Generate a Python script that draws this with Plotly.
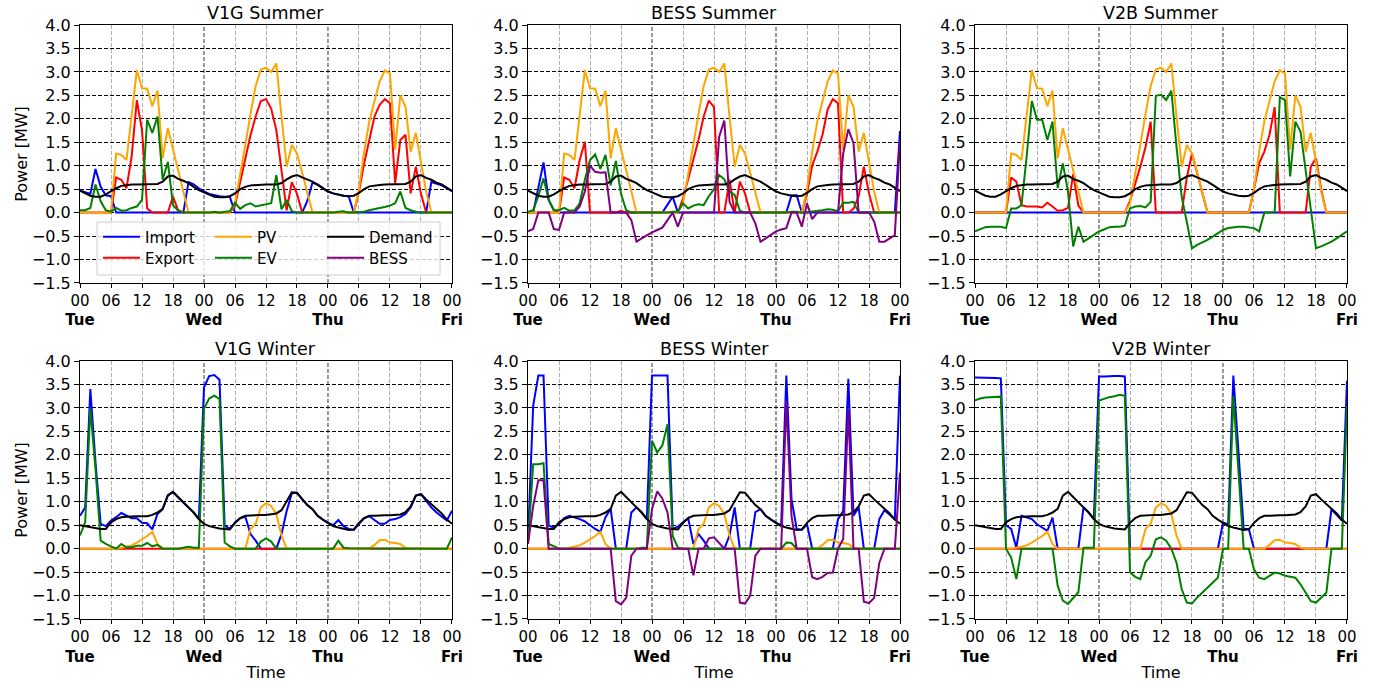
import plotly.graph_objects as go

HOURS = list(range(73))
DAY_NAMES = ["Tue", "Wed", "Thu", "Fri"]
HOUR_TICKS = list(range(0, 73, 6))
Y_TICKS = [-1.5, -1.0, -0.5, 0.0, 0.5, 1.0, 1.5, 2.0, 2.5, 3.0, 3.5, 4.0]

SERIES_ORDER = ["Import", "Export", "PV", "EV", "Demand", "BESS"]
SERIES_COLORS = {"Import": "#0000ff", "Export": "#ff0000", "PV": "#ffa500",
                 "EV": "#008000", "Demand": "#000000", "BESS": "#800080"}
LEGEND_OF = {"Import": "legend", "PV": "legend", "Demand": "legend",
             "Export": "legend2", "EV": "legend2", "BESS": "legend2"}

ZERO = [0.0] * 73

# ---------------- Summer (shared) ----------------
SUMMER_DEMAND = [
    0.47, 0.41, 0.36, 0.34, 0.34, 0.39, 0.46, 0.52, 0.57, 0.59, 0.60, 0.60,
    0.60, 0.60, 0.60, 0.61, 0.66, 0.77, 0.79, 0.72, 0.68, 0.63, 0.55, 0.48,
    0.43, 0.38, 0.34, 0.33, 0.33, 0.35, 0.41, 0.50, 0.55, 0.58, 0.59, 0.60,
    0.60, 0.60, 0.60, 0.63, 0.71, 0.77, 0.80, 0.75, 0.71, 0.66, 0.59, 0.52,
    0.45, 0.41, 0.38, 0.36, 0.35, 0.36, 0.42, 0.50, 0.56, 0.58, 0.59, 0.60,
    0.60, 0.60, 0.60, 0.61, 0.66, 0.77, 0.80, 0.74, 0.70, 0.64, 0.60, 0.53,
    0.46]
SUMMER_PV = [
    0, 0, 0, 0, 0, 0, 0, 1.26, 1.23, 1.12, 2.05, 3.04,
    2.65, 2.64, 2.27, 2.60, 1.16, 1.80, 1.35, 0.90, 0.45, 0, 0, 0,
    0, 0, 0, 0, 0, 0, 0.20, 0.80, 1.45, 2.10, 2.70, 3.05,
    3.09, 3.00, 3.18, 2.05, 0.98, 1.44, 1.26, 0.85, 0.42, 0, 0, 0,
    0, 0, 0, 0, 0, 0, 0.50, 1.30, 1.95, 2.40, 2.80, 3.03,
    2.97, 1.34, 2.50, 2.26, 1.30, 1.70, 1.05, 0.45, 0, 0, 0, 0,
    0]

V1G_S_IMPORT = [
    0.47, 0.43, 0.40, 0.93, 0.55, 0.37, 0.35, 0, 0, 0, 0, 0,
    0, 0, 0, 0, 0, 0, 0, 0, 0, 0.65, 0.60, 0.52,
    0.45, 0.40, 0.37, 0.35, 0.34, 0.34, 0, 0, 0, 0, 0, 0,
    0, 0, 0, 0, 0, 0, 0, 0, 0.25, 0.64, 0.60, 0.52,
    0.45, 0.41, 0.38, 0.36, 0.35, 0, 0, 0, 0, 0, 0, 0,
    0, 0, 0, 0, 0, 0, 0, 0, 0.65, 0.62, 0.58, 0.52,
    0.46]
V1G_S_EXPORT = [
    0, 0, 0, 0, 0, 0, 0, 0.75, 0.70, 0.52, 1.20, 2.40,
    1.76, 0.09, 0, 0, 0, 0, 0.34, 0.05, 0, 0, 0, 0,
    0, 0, 0, 0, 0, 0, 0.15, 0.65, 1.15, 1.65, 2.05, 2.38,
    2.42, 2.22, 1.76, 0.84, 0.05, 0.65, 0.40, 0, 0, 0, 0, 0,
    0, 0, 0, 0, 0, 0, 0.45, 1.05, 1.55, 2.05, 2.30, 2.42,
    2.33, 0.63, 1.55, 1.66, 0.41, 0.98, 0.40, 0, 0, 0, 0, 0,
    0]
V1G_S_EV = [
    0.05, 0.05, 0.10, 0.60, 0.24, 0.05, 0.02, 0.10, 0.04, 0.05, 0.10, 0.13,
    0.27, 1.98, 1.70, 2.05, 0.70, 1.08, 0.16, 0.04, 0, 0, 0, 0,
    0, 0, 0.02, 0, 0.02, 0.03, 0.21, 0.08, 0.16, 0.20, 0.13, 0.15,
    0.18, 0.20, 0.80, 0.07, 0.27, 0.03, 0, 0, 0, 0, 0, 0,
    0, 0, 0.02, 0.03, 0, 0.01, 0.02, 0.02, 0.05, 0.08, 0.10, 0.12,
    0.15, 0.20, 0.45, 0.10, 0.05, 0.02, 0, 0, 0, 0, 0, 0,
    0]

BESS_S_IMPORT = [
    0, 0, 0.53, 1.07, 0.27, 0.05, 0, 0, 0, 0, 0, 0,
    0, 0, 0, 0, 0, 0, 0, 0, 0, 0, 0, 0,
    0, 0, 0, 0.17, 0.34, 0, 0, 0, 0, 0, 0, 0,
    0, 0, 0, 0, 0, 0, 0, 0, 0, 0, 0, 0,
    0, 0, 0, 0.37, 0.37, 0, 0, 0, 0, 0, 0, 0,
    0, 0, 0, 0, 0, 0, 0, 0, 0, 0, 0, 0,
    1.74]
BESS_S_EXPORT = [
    0, 0, 0, 0, 0, 0, 0, 0.75, 0.70, 0.52, 1.12, 1.51,
    0, 0, 0, 0, 0, 0, 0.04, 0, 0, 0, 0, 0,
    0, 0, 0, 0, 0, 0, 0.30, 0.70, 1.12, 1.55, 2.05, 2.39,
    2.25, 0, 0, 0.70, 0, 0.66, 0.41, 0, 0, 0, 0, 0,
    0, 0, 0, 0, 0, 0, 0.40, 1.00, 1.30, 1.66, 2.20, 2.42,
    2.33, 0, 0, 0.08, 0.35, 0.98, 0.41, 0, 0, 0, 0, 0,
    0]
BESS_S_EV = [
    0.02, 0.05, 0.35, 0.73, 0.27, 0.05, 0.05, 0.10, 0.04, 0.05, 0.20, 0.70,
    1.12, 1.24, 0.93, 1.23, 0.58, 1.10, 0.40, 0.05, 0, 0, 0, 0,
    0, 0, 0, 0, 0.02, 0.02, 0.20, 0.09, 0.15, 0.18, 0.16, 0.35,
    0.50, 0.80, 0.71, 0.45, 0.38, 0.04, 0, 0, 0, 0, 0, 0,
    0, 0, 0, 0.02, 0.02, 0, 0.01, 0.02, 0.03, 0.05, 0.07, 0.06,
    0.03, 0.21, 0.21, 0.23, 0, 0, 0, 0, 0, 0, 0, 0,
    0]
BESS_S_BESS = [
    -0.40, -0.35, 0, 0, 0, -0.35, -0.37, 0, 0, 0, 0.13, 0.45,
    1.00, 0.87, 0.85, 0.86, 0, 0, 0, 0, -0.16, -0.62, -0.55, -0.48,
    -0.42, -0.37, -0.32, -0.16, 0, -0.30, 0, 0, 0, 0, 0, 0,
    0, 1.62, 1.96, 0.23, 0, 0, 0, 0, -0.23, -0.62, -0.55, -0.47,
    -0.40, -0.36, -0.33, 0, 0, -0.30, 0.20, -0.14, 0, 0, 0, 0,
    0, 1.26, 1.78, 1.48, 0, 0, 0, -0.19, -0.62, -0.62, -0.55, -0.48,
    1.55]

V2B_S_IMPORT = ZERO
V2B_S_EXPORT = [
    0, 0, 0, 0, 0, 0, 0, 0.75, 0.66, 0.16, 0.13, 0.13,
    0.13, 0.11, 0.21, 0.13, 0.04, 0.05, 0.10, 0.82, 0.15, 0, 0, 0,
    0, 0, 0, 0, 0, 0, 0.25, 0.59, 0.98, 1.40, 1.94, 0,
    0, 0, 0, 0, 0, 0.75, 1.26, 0.84, 0.42, 0, 0, 0,
    0, 0, 0, 0, 0, 0, 0.50, 1.05, 1.30, 1.66, 2.25, 0,
    0, 0, 0, 0, 0, 0.98, 1.16, 0.50, 0, 0, 0, 0,
    0]
V2B_S_EV = [
    -0.40, -0.36, -0.31, -0.30, -0.30, -0.30, -0.33, 0.09, 0.09, 0.16, 1.20, 2.38,
    1.98, 1.98, 1.55, 1.94, 0.52, 1.05, 0.45, -0.72, -0.30, -0.62, -0.55, -0.48,
    -0.40, -0.36, -0.31, -0.30, -0.30, -0.28, 0.09, 0.13, 0.14, 0.11, 0.23, 2.49,
    2.51, 2.40, 2.60, 1.40, 0.34, -0.20, -0.76, -0.69, -0.64, -0.58, -0.51, -0.43,
    -0.37, -0.33, -0.31, -0.30, -0.30, -0.31, -0.33, -0.40, 0, 0, 0, 2.46,
    2.40, 0.77, 1.94, 1.73, 0.90, 0.07, -0.76, -0.72, -0.67, -0.62, -0.55, -0.48,
    -0.40]

# ---------------- Winter (shared) ----------------
WINTER_DEMAND = [
    0.50, 0.48, 0.45, 0.43, 0.42, 0.42, 0.56, 0.63, 0.67, 0.68, 0.69, 0.69,
    0.69, 0.69, 0.72, 0.77, 0.85, 1.13, 1.21, 1.09, 0.99, 0.88, 0.77, 0.63,
    0.53, 0.48, 0.45, 0.43, 0.42, 0.41, 0.55, 0.65, 0.70, 0.71, 0.72, 0.72,
    0.72, 0.73, 0.75, 0.82, 1.00, 1.20, 1.19, 1.05, 0.93, 0.84, 0.70, 0.62,
    0.55, 0.48, 0.45, 0.42, 0.40, 0.41, 0.55, 0.65, 0.70, 0.70, 0.71, 0.71,
    0.71, 0.72, 0.73, 0.78, 0.90, 1.13, 1.16, 1.05, 0.95, 0.85, 0.75, 0.62,
    0.53]
WINTER_PV = [
    0, 0, 0, 0, 0, 0, 0, 0, 0.02, 0.04, 0.07, 0.13,
    0.20, 0.27, 0.36, 0.10, 0, 0, 0, 0, 0, 0, 0, 0,
    0, 0, 0, 0, 0, 0, 0, 0, 0, 0.42, 0.53, 0.88,
    0.97, 0.91, 0.74, 0.28, 0, 0, 0, 0, 0, 0, 0, 0,
    0, 0, 0, 0, 0, 0, 0, 0, 0, 0.08, 0.18, 0.19,
    0.13, 0.12, 0.10, 0.02, 0, 0, 0, 0, 0, 0, 0, 0,
    0]

V1G_W_IMPORT = [
    0.70, 0.88, 3.40, 1.84, 0.53, 0.48, 0.60, 0.67, 0.76, 0.70, 0.65, 0.65,
    0.55, 0.54, 0.41, 0.74, 0.84, 1.14, 1.21, 1.09, 0.99, 0.88, 0.77, 0.63,
    3.44, 3.68, 3.70, 3.60, 0.49, 0.42, 0.56, 0.65, 0.68, 0.31, 0.17, 0,
    0, 0, 0, 0.31, 0.80, 1.18, 1.19, 1.05, 0.93, 0.84, 0.70, 0.62,
    0.55, 0.50, 0.61, 0.48, 0.42, 0.40, 0.52, 0.65, 0.69, 0.60, 0.53, 0.53,
    0.61, 0.63, 0.67, 0.74, 0.88, 1.13, 1.16, 1.02, 0.88, 0.77, 0.68, 0.60,
    0.81]
V1G_W_EXPORT = ZERO
V1G_W_EV = [
    0.28, 0.56, 2.98, 1.70, 0.17, 0.10, 0.05, 0, 0.10, 0.03, 0.03, 0.06,
    0.06, 0.12, 0.05, 0.08, 0, 0, 0, 0, 0.02, 0.04, 0.02, 0.02,
    2.98, 3.20, 3.26, 3.19, 0.13, 0.05, 0, 0, 0, 0, 0, 0.15,
    0.22, 0.15, 0, 0, 0, 0, 0, 0, 0, 0, 0, 0,
    0, 0, 0.17, 0.02, 0.01, 0.01, 0.01, 0.01, 0, 0.01, 0.01, 0,
    0, 0, 0, 0, 0, 0, 0, 0, 0, 0, 0, 0,
    0.24]

BESS_W_IMPORT = [
    0.20, 3.05, 3.69, 3.69, 0.49, 0.45, 0.52, 0.65, 0.70, 0.67, 0.63, 0.58,
    0.50, 0.42, 0.36, 0.67, 0.85, 0, 0, 0, 0.77, 0.88, 0.77, 0.63,
    3.69, 3.69, 3.69, 3.69, 0.42, 0.47, 0.56, 0.65, 0.10, 0.31, 0.17, 0,
    0, 0, 0, 0.28, 0.88, 0, 0, 0, 0.78, 0.84, 0.70, 0.62,
    0.55, 0.50, 3.69, 1.06, 0.42, 0.40, 0.52, 0, 0, 0, 0, 0,
    0.63, 0.80, 3.62, 0.70, 0.88, 0, 0, 0, 0.63, 0.82, 0.72, 0.62,
    3.69]
BESS_W_EXPORT = ZERO
BESS_W_EV = [
    0.10, 1.80, 1.80, 1.82, 0.10, 0.05, 0, 0, 0, 0, 0, 0,
    0, 0, 0, 0, 0, 0, 0, 0, 0, 0, 0.02, 0.02,
    2.30, 2.05, 2.20, 2.65, 0.27, 0.02, 0, 0, 0, 0, 0, 0,
    0, 0, 0, 0, 0, 0, 0, 0, 0, 0, 0, 0,
    0, 0, 0.13, 0.12, 0, 0, 0, 0, 0, 0, 0, 0,
    0, 0, 0, 0, 0, 0, 0, 0, 0, 0, 0, 0,
    0]
BESS_W_BESS = [
    0.10, 0.91, 1.46, 1.46, 0, 0, 0, 0, 0, 0, 0, 0,
    0, 0, 0, 0, 0, -1.12, -1.19, -1.05, -0.15, 0, 0, 0,
    0.84, 1.22, 1.07, 0.77, 0, 0, 0, 0, -0.57, 0, 0, 0.22,
    0.24, 0.13, 0, 0, 0, -1.15, -1.17, -1.00, -0.15, 0, 0, 0,
    0, 0, 3.15, 0.70, 0, 0, 0, -0.61, -0.65, -0.60, -0.52, -0.51,
    0, 0.20, 2.97, 0, 0, -1.13, -1.16, -1.05, -0.30, 0, 0, 0,
    1.62]

V2B_W_IMPORT = [
    3.65, 3.65, 3.65, 3.64, 3.64, 3.63, 0.50, 0.42, 0.02, 0.70, 0.66, 0.63,
    0.52, 0.45, 0.38, 0.66, 0, 0, 0, 0, 0, 0.88, 0.77, 0.63,
    3.67, 3.67, 3.68, 3.68, 3.68, 3.67, 0, 0, 0, 0, 0, 0,
    0, 0, 0, 0, 0, 0, 0, 0, 0, 0, 0, 0,
    0.55, 0.52, 3.69, 1.95, 0.42, 0.42, 0, 0, 0, 0, 0, 0,
    0, 0, 0, 0, 0, 0, 0, 0, 0, 0.84, 0.72, 0.60,
    3.58]
V2B_W_EXPORT = ZERO
V2B_W_EV = [
    3.16, 3.20, 3.22, 3.23, 3.24, 3.24, 0, -0.19, -0.65, 0, 0, 0,
    0, 0, 0, 0, -0.79, -1.11, -1.18, -1.06, -0.93, 0.02, 0.02, 0.02,
    3.16, 3.20, 3.23, 3.25, 3.28, 3.26, -0.50, -0.60, -0.65, -0.29, -0.15, 0.20,
    0.24, 0.17, 0, -0.30, -0.86, -1.15, -1.17, -1.04, -0.94, -0.83, -0.74, -0.62,
    0, 0, 3.25, 1.50, 0, 0, -0.44, -0.62, -0.65, -0.58, -0.51, -0.53,
    -0.58, -0.60, -0.62, -0.76, -0.94, -1.12, -1.15, -1.04, -0.94, 0, 0, 0,
    3.04]

PANELS = [
    ("V1G Summer", {"Import": V1G_S_IMPORT, "Export": V1G_S_EXPORT, "PV": SUMMER_PV,
                    "EV": V1G_S_EV, "Demand": SUMMER_DEMAND}),
    ("BESS Summer", {"Import": BESS_S_IMPORT, "Export": BESS_S_EXPORT, "PV": SUMMER_PV,
                     "EV": BESS_S_EV, "Demand": SUMMER_DEMAND, "BESS": BESS_S_BESS}),
    ("V2B Summer", {"Import": V2B_S_IMPORT, "Export": V2B_S_EXPORT, "PV": SUMMER_PV,
                    "EV": V2B_S_EV, "Demand": SUMMER_DEMAND}),
    ("V1G Winter", {"Import": V1G_W_IMPORT, "Export": V1G_W_EXPORT, "PV": WINTER_PV,
                    "EV": V1G_W_EV, "Demand": WINTER_DEMAND}),
    ("BESS Winter", {"Import": BESS_W_IMPORT, "Export": BESS_W_EXPORT, "PV": WINTER_PV,
                     "EV": BESS_W_EV, "Demand": WINTER_DEMAND, "BESS": BESS_W_BESS}),
    ("V2B Winter", {"Import": V2B_W_IMPORT, "Export": V2B_W_EXPORT, "PV": WINTER_PV,
                    "EV": V2B_W_EV, "Demand": WINTER_DEMAND}),
]

# ---------------- layout geometry ----------------
W, H = 1377, 683
M_L, M_R, M_T, M_B = 80, 30, 25, 64
COL_DOMAINS = [[0.0, 0.2936], [0.3536, 0.6472], [0.7064, 1.0]]
ROW_DOMAINS = [[0.5657, 1.0], [0.0, 0.4343]]
FONT = "DejaVu Sans"
GRID_DASH = "4px,2px"

x_ticktext = []
for h in HOUR_TICKS:
    if h % 24 == 0:
        x_ticktext.append("00<br><b>%s</b>" % DAY_NAMES[h // 24])
    else:
        x_ticktext.append("%02d" % (h % 24))
minor_vals = [h for h in HOUR_TICKS if h % 24 != 0]
day_lines = [h for h in HOUR_TICKS if h % 24 == 0 and 0 < h < 72]
y_ticktext = [("%.1f" % v).replace("-", "\u2212") for v in Y_TICKS]

fig = go.Figure()
layout = dict(width=W, height=H, margin=dict(l=M_L, r=M_R, t=M_T, b=M_B, autoexpand=False),
              paper_bgcolor="white", plot_bgcolor="white",
              font=dict(family=FONT, size=16, color="black"),
              shapes=[], annotations=[])

for idx, (title, series) in enumerate(PANELS):
    n = idx + 1
    r, c = divmod(idx, 3)
    sfx = "" if n == 1 else str(n)
    for name in SERIES_ORDER:
        if name not in series:
            continue
        fig.add_trace(go.Scatter(
            x=HOURS, y=series[name], mode="lines", name=name,
            line=dict(color=SERIES_COLORS[name], width=2),
            xaxis="x" + sfx, yaxis="y" + sfx,
            showlegend=(idx == 1), legend=LEGEND_OF[name], hoverinfo="skip"))

    xa = dict(domain=COL_DOMAINS[c], anchor="y" + sfx, range=[0, 72],
              tickmode="array", tickvals=HOUR_TICKS, ticktext=x_ticktext,
              tickangle=0, automargin=False,
              showgrid=False, zeroline=False, showline=True, mirror=True,
              linecolor="black", linewidth=1, ticks="outside", ticklen=4,
              tickcolor="black", tickfont=dict(size=15, color="black"),
              minor=dict(tickvals=minor_vals, showgrid=True, gridcolor="#b0b0b0",
                         griddash=GRID_DASH, gridwidth=0.8))
    if r == 1:
        xa["title"] = dict(text="Time", font=dict(size=16), standoff=2)
    ya = dict(domain=ROW_DOMAINS[r], anchor="x" + sfx, range=[-1.5, 4.0],
              tickmode="array", tickvals=Y_TICKS, ticktext=y_ticktext,
              automargin=False,
              showgrid=True, gridcolor="black", griddash=GRID_DASH, gridwidth=0.8,
              zeroline=False, showline=True, mirror=True, linecolor="black",
              linewidth=1, ticks="outside", ticklen=5, tickcolor="black",
              tickfont=dict(size=16, color="black"))
    if c == 0:
        ya["title"] = dict(text="Power [MW]", font=dict(size=16), standoff=0)
    layout["xaxis" + sfx] = xa
    layout["yaxis" + sfx] = ya

    for d in day_lines:
        layout["shapes"].append(dict(type="line", xref="x" + sfx, yref="y%s domain" % sfx,
                                     x0=d, x1=d, y0=0, y1=1, layer="below",
                                     line=dict(color="black", width=0.8, dash=GRID_DASH)))
    layout["annotations"].append(dict(
        text=title, xref="paper", yref="paper",
        x=(COL_DOMAINS[c][0] + COL_DOMAINS[c][1]) / 2, y=ROW_DOMAINS[r][1],
        xanchor="center", yanchor="bottom", yshift=0, showarrow=False,
        font=dict(size=17.5, color="black")))


def px_to_paper_x(px):
    return (px - M_L) / (W - M_L - M_R)


def px_to_paper_y(py):
    return (H - M_B - py) / (H - M_T - M_B)


# legend frame inside the first panel
layout["shapes"].append(dict(type="rect", xref="paper", yref="paper",
                             x0=px_to_paper_x(97), x1=px_to_paper_x(440),
                             y0=px_to_paper_y(275), y1=px_to_paper_y(222),
                             layer="above", fillcolor="rgba(255,255,255,0.8)",
                             line=dict(color="#cccccc", width=1)))

common_leg = dict(orientation="h", xanchor="left", yanchor="middle",
                  x=px_to_paper_x(98), entrywidth=60, entrywidthmode="pixels",
                  itemwidth=37,
                  bgcolor="rgba(0,0,0,0)", borderwidth=0,
                  font=dict(size=15, color="black"), traceorder="normal")
layout["legend"] = dict(common_leg, y=px_to_paper_y(237))
layout["legend2"] = dict(common_leg, y=px_to_paper_y(258))

fig.update_layout(**layout)
fig.write_html("out.html", config={"displayModeBar": False},
               post_script="document.body.style.margin='0px';")
